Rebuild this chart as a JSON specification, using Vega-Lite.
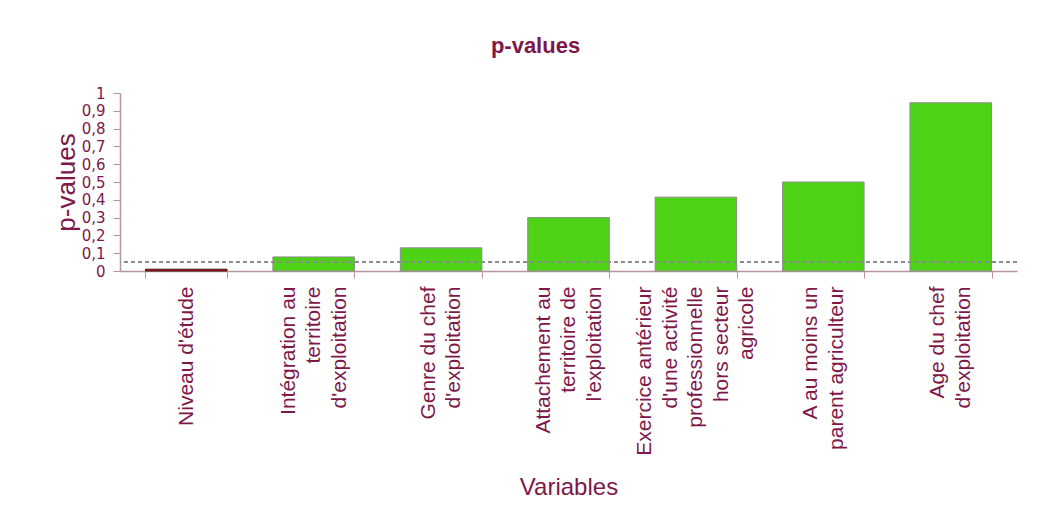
{
  "$schema": "https://vega.github.io/schema/vega-lite/v6.json",
  "autosize": "none",
  "width": 897,
  "height": 178,
  "padding": {"left": 120, "top": 93, "right": 32, "bottom": 255},
  "background": "white",
  "title": {
    "text": "p-values",
    "font": "Liberation Sans",
    "fontSize": 22,
    "fontWeight": "bold",
    "color": "#7E1848",
    "offset": 28,
    "dx": -33
  },
  "data": {
    "values": [
      {"variable": "Niveau d'étude", "p": 0.01},
      {"variable": "Intégration au|territoire|d'exploitation", "p": 0.079},
      {"variable": "Genre du chef|d'exploitation", "p": 0.13},
      {"variable": "Attachement au|territoire de|l'exploitation", "p": 0.30},
      {"variable": "Exercice antérieur|d'une activité|professionnelle|hors secteur|agricole", "p": 0.415},
      {"variable": "A au moins un|parent agriculteur", "p": 0.50},
      {"variable": "Age du chef|d'exploitation", "p": 0.945}
    ]
  },
  "layer": [
    {
      "mark": {"type": "bar", "strokeWidth": 1},
      "encoding": {
        "x": {
          "field": "variable",
          "type": "nominal",
          "sort": null,
          "scale": {"paddingInner": 0.36, "paddingOuter": 0.2},
          "axis": {
            "title": "Variables",
            "titleFont": "Liberation Sans",
            "titleFontSize": 24,
            "titleFontWeight": "normal",
            "titleColor": "#7E1848",
            "titlePadding": 20,
            "labelExpr": "split(datum.label, '|')",
            "labelAngle": -90,
            "labelAlign": "right",
            "labelBaseline": "middle",
            "labelFont": "Liberation Sans",
            "labelFontSize": 21,
            "labelLineHeight": 25.5,
            "labelColor": "#7E1848",
            "labelPadding": 8,
            "labelLimit": 400,
            "labelOffset": {
              "condition": [
                {"test": "length(split(datum.value, '|')) == 2", "value": -12.75},
                {"test": "length(split(datum.value, '|')) == 3", "value": -25.5},
                {"test": "length(split(datum.value, '|')) == 5", "value": -51}
              ],
              "value": 0
            },
            "tickBand": "extent",
            "tickSize": 7,
            "tickColor": "#B8949E",
            "domainColor": "#B8949E",
            "domainWidth": 1.5
          }
        },
        "y": {
          "field": "p",
          "type": "quantitative",
          "scale": {"domain": [0, 1], "nice": false},
          "axis": {
            "title": "p-values",
            "titleFont": "Liberation Sans",
            "titleFontSize": 26,
            "titleFontWeight": "normal",
            "titleColor": "#7E1848",
            "titlePadding": 2,
            "values": [0, 0.1, 0.2, 0.3, 0.4, 0.5, 0.6, 0.7, 0.8, 0.9, 1],
            "labelExpr": "replace(format(datum.value, '.1~f'), '.', ',')",
            "labelOverlap": false,
            "labelFont": "DejaVu Sans",
            "labelFontSize": 15,
            "labelColor": "#7E1848",
            "labelPadding": 8,
            "tickSize": 7,
            "tickColor": "#B8949E",
            "domainColor": "#B8949E",
            "domainWidth": 1.5,
            "grid": false
          }
        },
        "color": {
          "condition": {"test": "datum.p < 0.05", "value": "#E8120C"},
          "value": "#4ED216"
        },
        "stroke": {
          "condition": {"test": "datum.p < 0.05", "value": "#3A1010"},
          "value": "#8C8C8C"
        }
      }
    },
    {
      "mark": {"type": "rule", "color": "#8C8C8C", "strokeDash": [4, 3], "strokeWidth": 1},
      "encoding": {
        "y": {
          "datum": 0.05,
          "type": "quantitative",
          "axis": {
            "title": "p-values",
            "titleFont": "Liberation Sans",
            "titleFontSize": 26,
            "titleFontWeight": "normal",
            "titleColor": "#7E1848",
            "titlePadding": 2,
            "values": [0, 0.1, 0.2, 0.3, 0.4, 0.5, 0.6, 0.7, 0.8, 0.9, 1],
            "labelExpr": "replace(format(datum.value, '.1~f'), '.', ',')",
            "labelOverlap": false,
            "labelFont": "DejaVu Sans",
            "labelFontSize": 15,
            "labelColor": "#7E1848",
            "labelPadding": 8,
            "tickSize": 7,
            "tickColor": "#B8949E",
            "domainColor": "#B8949E",
            "domainWidth": 1.5,
            "grid": false
          }
        }
      }
    }
  ],
  "config": {
    "view": {"stroke": null}
  }
}
